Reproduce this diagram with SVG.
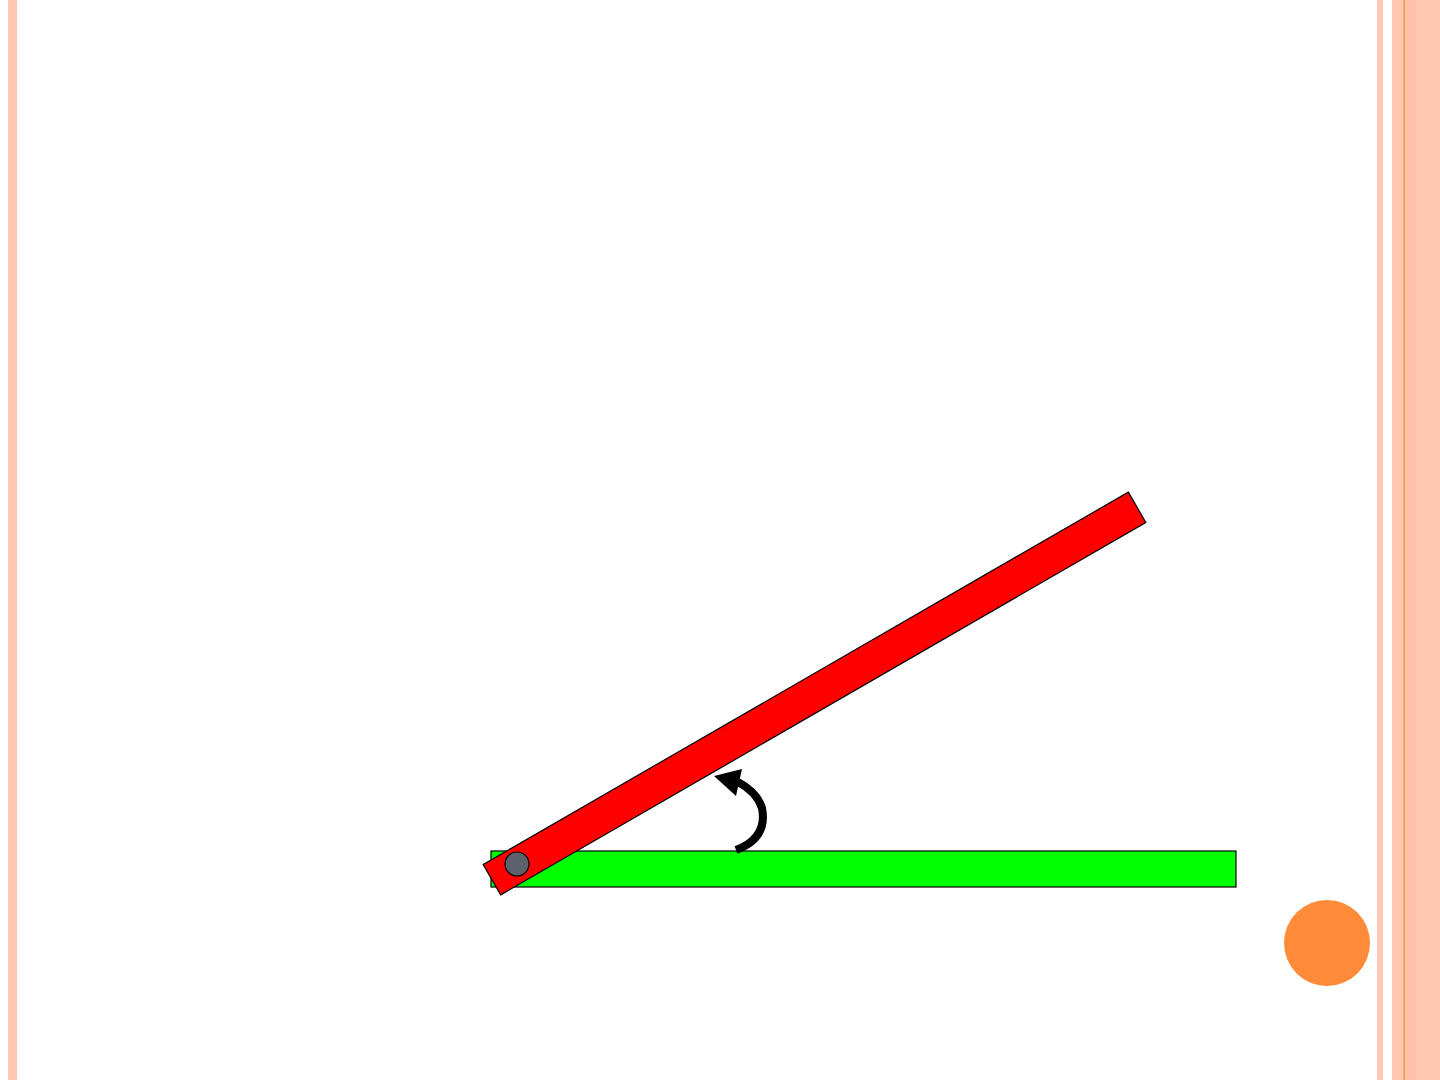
<svg xmlns="http://www.w3.org/2000/svg" width="1440" height="1080" viewBox="0 0 1440 1080">
<style>
.strip{fill:#FFC6B2}
.edge{stroke:#000;stroke-width:1.2}
</style>
<rect width="1440" height="1080" fill="#fff"/>
<g id="frame">
<rect class="strip" x="8" y="0" width="9" height="1080"/>
<rect class="strip" x="1377" y="0" width="6" height="1080"/>
<rect class="strip" x="1392" y="0" width="48" height="1080"/>
<rect x="1404" y="0" width="11" height="1080" fill="#FFC0A8"/>
<rect x="1403.5" y="0" width="1.5" height="1080" fill="#F7954F"/>
</g>
<g id="base"><rect class="edge" x="491" y="851" width="745" height="36" fill="#00FF00"/></g>
<g id="arm"><rect class="edge" x="-372.5" y="-17.5" width="745" height="35" fill="#FF0000" transform="translate(814.5,693.5) rotate(-30)"/></g>
<g id="pivot"><circle class="edge" cx="517" cy="864" r="12" fill="#5E616D" stroke-width="1.5"/></g>
<g id="connectors">
<path d="M736,850 Q768,838 762,808 Q757,792 738,782" fill="none" stroke="#000" stroke-width="8"/>
<polygon points="714,776 742,769 736,796" fill="#000"/>
</g>
<g id="badge"><circle cx="1327" cy="943" r="43" fill="#FF8A3A"/></g>
</svg>
